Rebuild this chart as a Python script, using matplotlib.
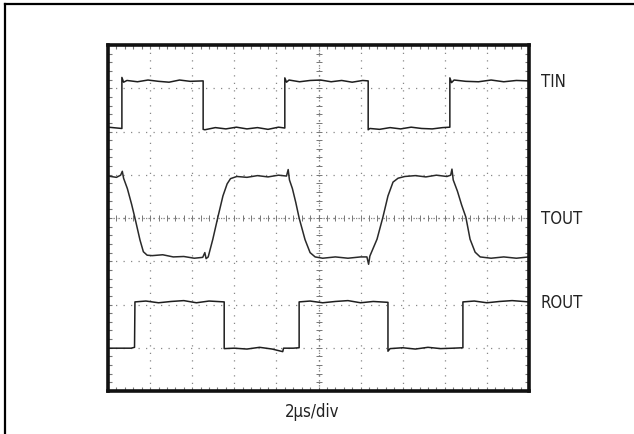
import numpy as np
import matplotlib
matplotlib.use("Agg")
import matplotlib.pyplot as plt
from matplotlib.lines import Line2D

plt.rcParams['font.family'] = ['DejaVu Sans']
plt.rcParams['font.stretch'] = 'condensed'

# ---- data (time in divisions, level in divisions) ----
tin_t = [0.00, 0.33, 0.33, 0.37, 0.45, 0.70, 0.95, 1.20, 1.45, 1.70, 1.95, 2.26,
         2.26, 2.30, 2.55, 2.80, 3.05, 3.30, 3.55, 3.80, 4.05, 4.20,
         4.20, 4.24, 4.30, 4.55, 4.80, 5.05, 5.30, 5.55, 5.80, 6.05, 6.18,
         6.18, 6.22, 6.45, 6.70, 6.95, 7.20, 7.45, 7.70, 7.95, 8.12,
         8.12, 8.16, 8.22, 8.50, 8.80, 9.10, 9.40, 9.70, 10.0]
tin_v = [6.10, 6.07, 7.25, 7.14, 7.18, 7.15, 7.19, 7.16, 7.14, 7.19, 7.16, 7.17,
         6.05, 6.04, 6.09, 6.06, 6.10, 6.06, 6.09, 6.05, 6.10, 6.08,
         7.24, 7.14, 7.19, 7.15, 7.18, 7.19, 7.15, 7.18, 7.14, 7.18, 7.17,
         6.04, 6.07, 6.05, 6.09, 6.06, 6.10, 6.07, 6.06, 6.09, 6.10,
         7.24, 7.13, 7.19, 7.16, 7.15, 7.19, 7.15, 7.18, 7.17]

tout_t = [0.00, 0.20, 0.30, 0.34, 0.37, 0.46, 0.56, 0.64, 0.76, 0.84, 0.93, 1.05, 1.30,
          1.55, 1.80, 2.05, 2.25, 2.30, 2.33, 2.38, 2.49, 2.61, 2.73, 2.83, 2.91,
          3.06, 3.30, 3.55, 3.80, 4.05, 4.24, 4.28, 4.31, 4.38, 4.46, 4.54, 4.68, 4.80,
          4.92, 5.10, 5.40, 5.70, 6.00, 6.15, 6.19, 6.22, 6.39, 6.53, 6.65, 6.77,
          6.89, 7.05, 7.30, 7.55, 7.80, 8.05, 8.14, 8.17, 8.20, 8.30, 8.40, 8.50, 8.60,
          8.72, 8.84, 9.10, 9.40, 9.70, 10.0]
tout_v = [4.97, 4.94, 4.99, 5.08, 4.92, 4.68, 4.32, 4.00, 3.49, 3.22, 3.14, 3.13, 3.15,
          3.10, 3.11, 3.07, 3.09, 3.20, 3.06, 3.10, 3.51, 4.02, 4.51, 4.79, 4.91,
          4.96, 4.94, 4.98, 4.95, 4.99, 4.97, 5.12, 4.88, 4.68, 4.36, 4.00, 3.50, 3.20,
          3.10, 3.07, 3.10, 3.07, 3.10, 3.10, 2.93, 3.12, 3.51, 4.02, 4.51, 4.83,
          4.92, 4.96, 4.98, 4.95, 4.99, 4.96, 4.99, 5.13, 4.88, 4.62, 4.30, 4.02, 3.51,
          3.21, 3.10, 3.07, 3.10, 3.07, 3.10]

rout_t = [0.00, 0.55, 0.63, 0.64, 0.90, 1.20, 1.50, 1.80, 2.10, 2.40, 2.76,
          2.76, 3.00, 3.30, 3.60, 3.90, 4.15, 4.17, 4.40, 4.54,
          4.54, 4.80, 5.10, 5.40, 5.70, 6.00, 6.30, 6.65,
          6.65, 6.70, 7.00, 7.30, 7.60, 7.90, 8.20, 8.43,
          8.43, 8.70, 9.00, 9.30, 9.60, 10.0]
rout_v = [0.99, 0.99, 1.01, 2.06, 2.08, 2.04, 2.07, 2.09, 2.04, 2.08, 2.06,
          0.98, 0.99, 0.97, 1.01, 0.97, 0.91, 0.99, 0.99, 1.00,
          2.06, 2.08, 2.04, 2.07, 2.09, 2.04, 2.07, 2.05,
          0.92, 0.98, 1.00, 0.97, 1.01, 0.98, 0.99, 1.00,
          2.06, 2.08, 2.04, 2.07, 2.09, 2.06]

trace_labels = ["TIN", "TOUT", "ROUT"]
label_levels = [7.17, 4.0, 2.06]
x_label = "2\u03bcs/div"

W, H = 634, 435
fig = plt.figure(figsize=(W / 100, H / 100), dpi=100)

# outer frame (left and top edges)
fig.add_artist(Line2D([5 / W, 5 / W], [0, 1 - 5 / H], color='black', lw=1.6))
fig.add_artist(Line2D([5 / W, 1], [1 - 5 / H, 1 - 5 / H], color='black', lw=1.6))

ax = fig.add_axes([108 / W, 43 / H, 421 / W, 346 / H])
ax.set_xlim(0, 10)
ax.set_ylim(0, 8)
for s in ax.spines.values():
    s.set_linewidth(2.6)
    s.set_color('#111111')

ax.set_xticks(np.arange(0, 11, 1))
ax.set_yticks(np.arange(0, 9, 1))
ax.set_xticks(np.arange(0, 10.01, 0.2), minor=True)
ax.set_yticks(np.arange(0, 8.01, 0.2), minor=True)
ax.tick_params(which='both', direction='in', length=3, width=0.8, color='#777777',
               top=True, right=True, labelbottom=False, labelleft=False)
ax.grid(True, which='major', color='#888888', linestyle=(0, (1, 5)), lw=0.9)

# center graticule lines with small division marks
ax.axhline(4, color='#777777', linestyle=(0, (1, 3)), lw=0.9)
ax.axvline(5, color='#777777', linestyle=(0, (1, 3)), lw=0.9)
cx = np.arange(0, 10.01, 0.2)
cy = np.arange(0, 8.01, 0.2)
ax.plot(cx, np.full_like(cx, 4.0), ls='none', marker='|', ms=4, mew=0.7, color='#777777')
ax.plot(np.full_like(cy, 5.0), cy, ls='none', marker='_', ms=4, mew=0.7, color='#777777')

# traces
ax.plot(tin_t, tin_v, color='#1e1e1e', lw=1.1)
ax.plot(tout_t, tout_v, color='#2a2a2a', lw=1.1)
ax.plot(rout_t, rout_v, color='#1e1e1e', lw=1.1)

# trace labels on the right
for lab, lev in zip(trace_labels, label_levels):
    ax.annotate(lab, xy=(1, lev), xycoords=('axes fraction', 'data'),
                xytext=(12, 0), textcoords='offset pixels',
                ha='left', va='center', fontsize=12, color='#222222',
                fontstretch='condensed')

fig.text(312 / W, 1 - 412 / H, x_label, ha='center', va='center',
         fontsize=12, color='#222222', fontstretch='condensed')

fig.savefig("out.png", dpi=100)
